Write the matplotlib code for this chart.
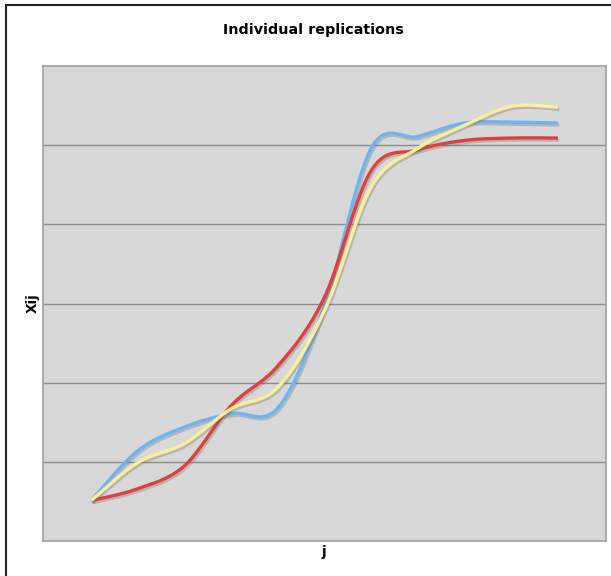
import numpy as np
import matplotlib
matplotlib.use("Agg")
import matplotlib.pyplot as plt
import matplotlib.patheffects as pe
from matplotlib.patches import Rectangle

# replication values at each step j
j = np.arange(11)
rep_blue = [5.1, 11.4, 14.4, 16.1, 16.8, 29.7, 49.6, 51.1, 52.8, 52.9, 52.8]
rep_red = [5.1, 6.6, 9.5, 17.1, 22.1, 30.8, 46.8, 49.4, 50.6, 50.9, 50.9]
rep_yellow = [5.1, 9.9, 12.3, 16.7, 19.4, 29.1, 44.7, 49.6, 52.5, 54.9, 54.8]

series = [
    (rep_blue, "#6cb5f5"),
    (rep_red, "#e0403d"),
    (rep_yellow, "#faef9a"),
]


def smooth(x, y, steps=40):
    # cubic bezier through every point, catmull-rom style tangents
    x = np.asarray(x, float)
    y = np.asarray(y, float)
    px = np.concatenate([[x[0]], x, [x[-1]]])
    py = np.concatenate([[y[0]], y, [y[-1]]])
    t = np.linspace(0, 1, steps)[:, None]
    xs, ys = [], []
    for i in range(1, len(px) - 2):
        p0 = np.array([px[i], py[i]])
        p3 = np.array([px[i + 1], py[i + 1]])
        c1 = p0 + (np.array([px[i + 1], py[i + 1]]) - np.array([px[i - 1], py[i - 1]])) / 6
        c2 = p3 - (np.array([px[i + 2], py[i + 2]]) - p0) / 6
        b = ((1 - t) ** 3) * p0 + 3 * ((1 - t) ** 2) * t * c1 + 3 * (1 - t) * t ** 2 * c2 + t ** 3 * p3
        xs.append(b[:, 0])
        ys.append(b[:, 1])
    return np.concatenate(xs), np.concatenate(ys)


fig = plt.figure(figsize=(6.11, 5.76), dpi=100)
fig.patches.append(Rectangle((6 / 611, -0.1), 1.2, 1.1 - 5 / 576,
                             transform=fig.transFigure, fill=False,
                             edgecolor="#222222", lw=1.5))

ax = fig.add_axes([43 / 611, 35 / 576, 563 / 611, 475 / 576])
ax.set_facecolor("#d8d8d8")
ax.set_xlim(-1.03, 11.03)
ax.set_ylim(0, 60)
ax.set_yticks([10, 20, 30, 40, 50])
ax.set_xticks([])
ax.tick_params(left=False, labelleft=False)
ax.grid(axis="y", color="#8a8a8a", lw=1)
ax.set_axisbelow(True)
for s in ax.spines.values():
    s.set_color("#a0a0a0")
    s.set_linewidth(1.2)

shadow = [pe.SimpleLineShadow(offset=(1.0, -1.5), shadow_color="#666666", alpha=0.3),
          pe.Normal()]
for vals, col in series:
    sx, sy = smooth(j, vals)
    ax.plot(sx, sy, color=col, lw=2.4, solid_capstyle="butt", path_effects=shadow)

fig.text(313 / 611, 1 - 30 / 576, "Individual replications", ha="center", va="center",
         fontsize=10.3, fontweight="bold")
fig.text(33 / 611, 1 - 303 / 576, "Xij", ha="center", va="center", rotation=90,
         fontsize=9.8, fontweight="bold")
fig.text(324 / 611, 1 - 552 / 576, "j", ha="center", va="center",
         fontsize=9.8, fontweight="bold")

fig.savefig("out.png", dpi=100)
